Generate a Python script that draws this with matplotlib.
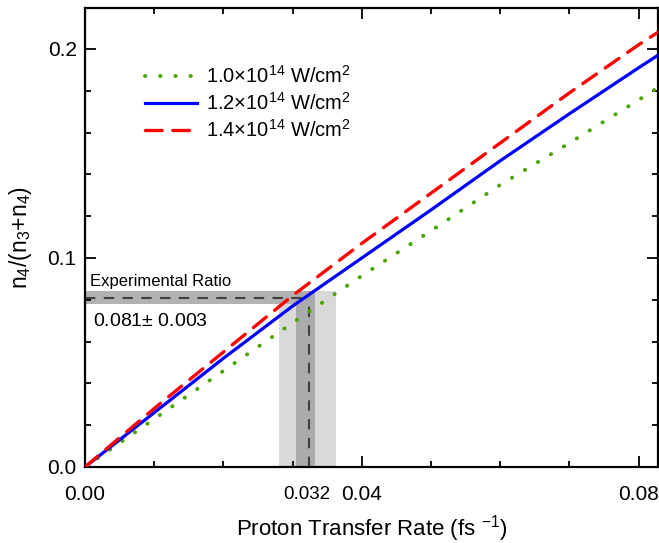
import matplotlib
matplotlib.use("Agg")
import matplotlib.pyplot as plt
from matplotlib.ticker import MultipleLocator

plt.rcParams['font.family'] = ['Liberation Sans', 'DejaVu Sans']
plt.rcParams['mathtext.fontset'] = 'custom'
plt.rcParams['mathtext.rm'] = 'Liberation Sans'
plt.rcParams['mathtext.it'] = 'Liberation Sans:italic'
plt.rcParams['mathtext.bf'] = 'Liberation Sans:bold'

# Data
rate = [0.0, 0.01, 0.02, 0.03, 0.04, 0.05, 0.06, 0.07, 0.08, 0.0828]
ratio_10 = [0.0, 0.023, 0.046, 0.069, 0.0915, 0.113, 0.135, 0.155, 0.1756, 0.1815]
ratio_12 = [0.0, 0.026, 0.052, 0.077, 0.100, 0.123, 0.1465, 0.169, 0.191, 0.197]
ratio_14 = [0.0, 0.028, 0.055, 0.082, 0.107, 0.131, 0.155, 0.179, 0.202, 0.208]
labels = [r'1.0$\times$10$^{14}$ W/cm$^2$', r'1.2$\times$10$^{14}$ W/cm$^2$',
          r'1.4$\times$10$^{14}$ W/cm$^2$']

exp_ratio = 0.081
exp_err = 0.003
exp_rate = 0.0323
rate_dark = [0.0305, 0.0333]
rate_light = [0.0281, 0.0362]

x_ticks = [0.0, 0.032, 0.04, 0.08]
x_ticklabels = ['0.00', '0.032', '0.04', '0.08']
y_ticks = [0.0, 0.1, 0.2]
y_ticklabels = ['0.0', '0.1', '0.2']

fig = plt.figure(figsize=(6.59, 5.43), dpi=100)
ax = fig.add_axes([85/659, 1-467/543, 573/659, 459/543])

# bands
ax.fill_between(rate_light, 0, exp_ratio + exp_err, color='#d9d9d9', lw=0, zorder=1)
ax.fill_between(rate_dark, 0, exp_ratio + exp_err, color='#ababab', lw=0, zorder=1.2)
ax.fill_between([0, rate_dark[0]], exp_ratio - exp_err, exp_ratio + exp_err,
                color='#b2b2b2', lw=0, zorder=1.1)
ax.plot([0, exp_rate], [exp_ratio, exp_ratio], color='#404040', lw=1.5,
        linestyle=(0, (5, 4)), zorder=2)
ax.plot([exp_rate, exp_rate], [0, exp_ratio], color='#404040', lw=1.5,
        linestyle=(0, (5, 4)), zorder=2)

ax.plot(rate, ratio_10, color='#4aa500', lw=2.8, linestyle=(0, (0.1, 3.8)),
        dash_capstyle='round', label=labels[0], zorder=3)
ax.plot(rate, ratio_12, color='#0000ff', lw=2.3, label=labels[1], zorder=3)
ax.plot(rate, ratio_14, color='#ff0000', lw=2.4, linestyle=(0, (5.0, 3.2)),
        dash_capstyle='round', label=labels[2], zorder=3)

ax.text(0.0007, 0.0865, 'Experimental Ratio', fontsize=12, zorder=4)
ax.text(0.0011, 0.0675, r'0.081$\pm$ 0.003', fontsize=14, zorder=4)

ax.set_xlim(0, 0.0828)
ax.set_ylim(0, 0.2196)

ax.set_xticks(x_ticks)
ax.set_xticklabels(x_ticklabels)
ax.xaxis.set_minor_locator(MultipleLocator(0.01))
ax.set_yticks(y_ticks)
ax.set_yticklabels(y_ticklabels)
ax.yaxis.set_minor_locator(MultipleLocator(0.02))
ax.tick_params(which='both', direction='in', top=True, right=True, labelsize=15, width=1.3)
ax.tick_params(which='major', length=8, pad=6)
ax.tick_params(which='minor', length=4)
for s in ax.spines.values():
    s.set_linewidth(1.6)

# the 0.032 label: smaller, with no tick mark
t032 = ax.xaxis.get_major_ticks()[1]
t032.tick1line.set_visible(False)
t032.tick2line.set_visible(False)
t032.label1.set_fontsize(13.5)
for tk in ax.xaxis.get_major_ticks():
    tk.label1.set_va('center')
ax.tick_params(axis='x', which='major', pad=20)

ax.set_xlabel(r'Proton Transfer Rate (fs $^{-1}$)', fontsize=16, labelpad=6)
ax.set_ylabel(r'n$_4$/(n$_3$+n$_4$)', fontsize=16.5, labelpad=10)

leg = ax.legend(loc='upper left', bbox_to_anchor=(0.104, 0.875), frameon=False,
                fontsize=14.5, handlelength=2.6, handletextpad=0.45,
                labelspacing=0.25, borderpad=0, borderaxespad=0)

fig.savefig('out.png', dpi=100)
